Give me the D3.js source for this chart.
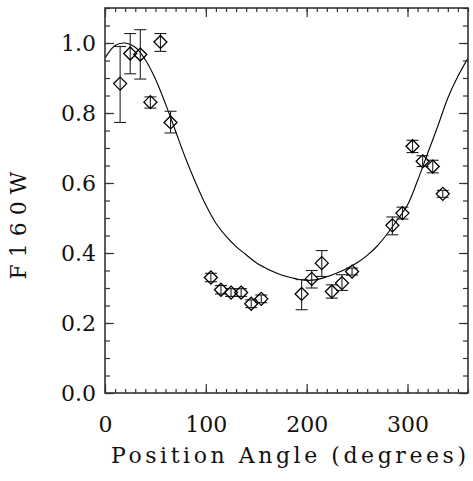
<!DOCTYPE html>
<html>
<head>
<meta charset="utf-8">
<script src="https://cdn.jsdelivr.net/npm/d3@7"></script>
<style>
  html, body { margin: 0; padding: 0; background: #fff; }
  svg { display: block; }
</style>
</head>
<body>
<svg id="chart" width="473" height="481"></svg>
<script>
// ---- data ----
const angle = [15, 25, 35, 45, 55, 65, 105, 115, 125, 135, 145, 155, 195, 205, 215, 225, 235, 245, 285, 295, 305, 315, 325, 335];
const flux  = [0.884, 0.970, 0.967, 0.831, 1.003, 0.773, 0.330, 0.295, 0.287, 0.287, 0.255, 0.269, 0.283, 0.326, 0.371, 0.290, 0.314, 0.347, 0.479, 0.514, 0.705, 0.662, 0.647, 0.569];
const errLo = [0.773, 0.912, 0.897, 0.814, 0.976, 0.743, 0.318, 0.283, 0.276, 0.276, 0.244, 0.258, 0.238, 0.300, 0.333, 0.271, 0.293, 0.337, 0.452, 0.497, 0.687, 0.647, 0.629, 0.559];
const errHi = [0.990, 1.027, 1.038, 0.846, 1.027, 0.805, 0.342, 0.307, 0.298, 0.298, 0.266, 0.280, 0.324, 0.350, 0.407, 0.309, 0.338, 0.357, 0.503, 0.531, 0.722, 0.678, 0.665, 0.579];

const modelAngle = [0, 10, 20, 30, 40, 50, 60, 70, 80, 90, 100, 110, 120, 130, 140, 150, 160, 170, 180, 190, 200, 210, 220, 230, 240, 250, 260, 270, 280, 290, 300, 310, 320, 330, 340, 350, 360];
const modelFlux  = [0.957, 0.993, 1.000, 0.988, 0.952, 0.897, 0.826, 0.748, 0.670, 0.600, 0.537, 0.485, 0.448, 0.418, 0.395, 0.372, 0.356, 0.343, 0.333, 0.326, 0.322, 0.324, 0.332, 0.343, 0.356, 0.372, 0.393, 0.420, 0.455, 0.495, 0.537, 0.607, 0.685, 0.762, 0.843, 0.905, 0.957];

const xTicks = [0, 100, 200, 300];
const yTicks = [0.0, 0.2, 0.4, 0.6, 0.8, 1.0];
const xLabel = "Position Angle (degrees)";
const yLabel = "F160W";

// ---- layout ----
const svg = d3.select("#chart");
const L = 105, R = 468, T = 8, B = 393;
const x = d3.scaleLinear().domain([0, 360]).range([L, R]);
const y = d3.scaleLinear().domain([0, 1.1]).range([B, T]);
const FONT = "DejaVu Serif";
const fs = 22;

function txt(sel) {
  return sel.attr("font-family", FONT).attr("font-size", fs)
    .attr("font-weight", "normal").attr("fill", "#111");
}

const plot = svg.append("g");

svg.append("defs").append("clipPath").attr("id", "clip")
  .append("rect").attr("x", L).attr("y", T).attr("width", R - L).attr("height", B - T);

// model curve
const line = d3.line().x((d, i) => x(modelAngle[i])).y(d => y(d)).curve(d3.curveCatmullRom.alpha(0.5));
plot.append("path")
  .attr("clip-path", "url(#clip)")
  .attr("d", line(modelFlux))
  .attr("fill", "none").attr("stroke", "#000").attr("stroke-width", 1.1);

// error bars
const cap = 6;
const eb = plot.append("g").attr("stroke", "#222").attr("stroke-width", 1.1).attr("fill", "none");
angle.forEach((a, i) => {
  const cx = x(a);
  eb.append("line").attr("x1", cx).attr("x2", cx).attr("y1", y(errLo[i])).attr("y2", y(errHi[i]));
  eb.append("line").attr("x1", cx - cap).attr("x2", cx + cap).attr("y1", y(errLo[i])).attr("y2", y(errLo[i]));
  eb.append("line").attr("x1", cx - cap).attr("x2", cx + cap).attr("y1", y(errHi[i])).attr("y2", y(errHi[i]));
});

// diamonds
const dg = plot.append("g");
angle.forEach((a, i) => {
  const cx = x(a), cy = y(flux[i]);
  const s = 6.5;
  dg.append("path")
    .attr("d", `M${cx},${cy - s}L${cx + s},${cy}L${cx},${cy + s}L${cx - s},${cy}Z`)
    .attr("fill", "none").attr("stroke", "#000").attr("stroke-width", 1.3);
});

// axes (IDL style: ticks inside on all four sides)
const axColor = "#333";

function styleAxis(g) {
  g.select(".domain").remove();
  g.attr("font-family", FONT).attr("font-size", fs);
  g.selectAll(".tick line").attr("stroke", axColor).attr("stroke-width", 1.2);
}

const xMinor = d3.range(0, 361, 10);
const yMinor = d3.range(0, 1.1001, 0.05);

// bottom
const gB = svg.append("g").attr("transform", `translate(0,${B})`);
gB.call(d3.axisBottom(x).tickValues(xMinor).tickSize(-4).tickFormat(""));
styleAxis(gB);
const gB2 = svg.append("g").attr("transform", `translate(0,${B})`);
gB2.call(d3.axisBottom(x).tickValues(xTicks).tickSize(-9).tickFormat(d3.format("d")));
styleAxis(gB2);
txt(gB2.selectAll("text")).attr("dy", "0.35em").attr("y", 31);

// top
const gT = svg.append("g").attr("transform", `translate(0,${T})`);
gT.call(d3.axisTop(x).tickValues(xMinor).tickSize(-4).tickFormat(""));
styleAxis(gT);
const gT2 = svg.append("g").attr("transform", `translate(0,${T})`);
gT2.call(d3.axisTop(x).tickValues(xTicks).tickSize(-9).tickFormat(""));
styleAxis(gT2);

// left
const gL = svg.append("g").attr("transform", `translate(${L},0)`);
gL.call(d3.axisLeft(y).tickValues(yMinor).tickSize(-5).tickFormat(""));
styleAxis(gL);
const gL2 = svg.append("g").attr("transform", `translate(${L},0)`);
gL2.call(d3.axisLeft(y).tickValues(yTicks).tickSize(-9).tickFormat(d3.format(".1f")));
styleAxis(gL2);
txt(gL2.selectAll("text")).attr("x", -9);

// right
const gR = svg.append("g").attr("transform", `translate(${R},0)`);
gR.call(d3.axisRight(y).tickValues(yMinor).tickSize(-5).tickFormat(""));
styleAxis(gR);
const gR2 = svg.append("g").attr("transform", `translate(${R},0)`);
gR2.call(d3.axisRight(y).tickValues(yTicks).tickSize(-9).tickFormat(""));
styleAxis(gR2);

// frame
svg.append("rect").attr("x", L).attr("y", T).attr("width", R - L).attr("height", B - T)
  .attr("fill", "none").attr("stroke", axColor).attr("stroke-width", 1.6);

// titles
txt(svg.append("text")).attr("x", (L + R) / 2 + 2).attr("y", 463)
  .attr("text-anchor", "middle")
  .attr("textLength", 355).attr("lengthAdjust", "spacing")
  .text(xLabel);

txt(svg.append("text"))
  .attr("transform", `translate(26,${(T + B) / 2 + 25}) rotate(-90)`)
  .attr("text-anchor", "middle")
  .attr("textLength", 108).attr("lengthAdjust", "spacing")
  .text(yLabel);
</script>
</body>
</html>
